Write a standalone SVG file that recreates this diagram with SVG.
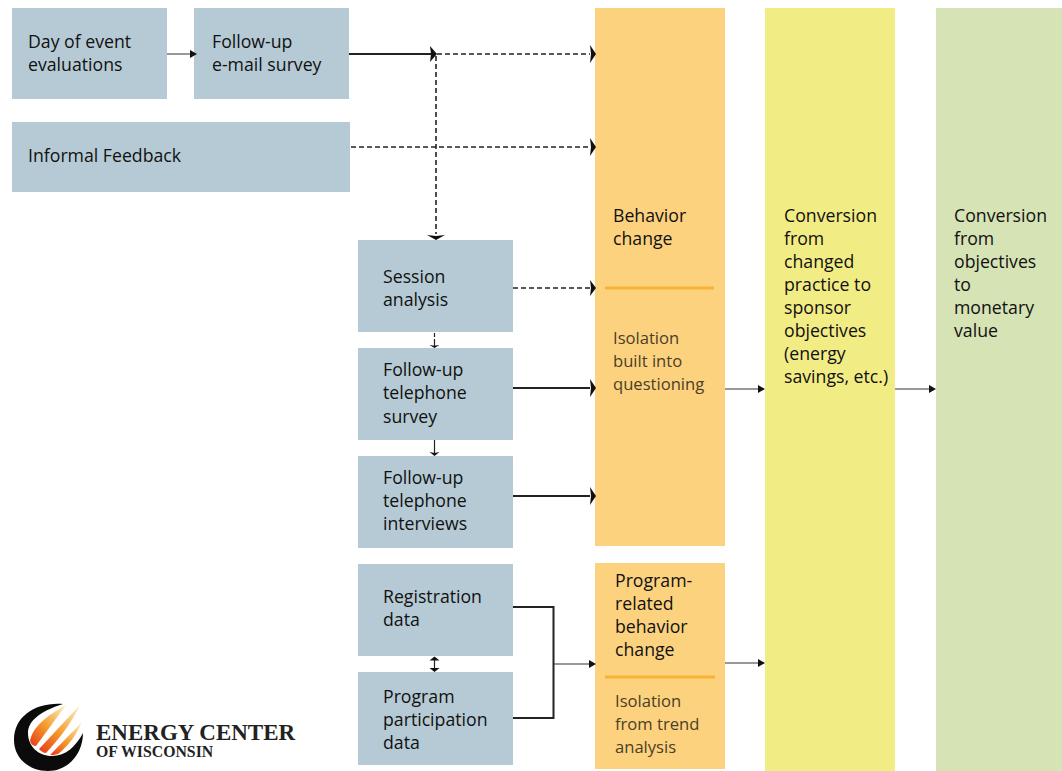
<svg xmlns="http://www.w3.org/2000/svg" width="1062" height="771" viewBox="0 0 1062 771">
<style>
text{font-family:"Open Sans","Noto Sans","Liberation Sans",sans-serif;font-size:17.7px;fill:#111}
.thin{font-size:16.600px;fill:#4a4026}
.b{fill:#b5cad4}.o{fill:#fdd27f}.y{fill:#f2ec85}.g{fill:#d5e3b5}
.c{fill:none;stroke:#222;stroke-width:2}
.t{fill:none;stroke:#333;stroke-width:1}
.a{fill:none;stroke:#222;stroke-width:1.2}
.d{fill:none;stroke:#222;stroke-width:1.6;stroke-dasharray:5 3}
.h{fill:#111}
.r{stroke:#f9b233;stroke-width:3}
text.l1{font-family:"Liberation Serif",serif;font-weight:700;font-size:23px;fill:#222}
text.l2{font-family:"Liberation Serif",serif;font-weight:700;font-size:15.800px;fill:#222}
</style>
<defs>
<linearGradient id="fl" x1="0" y1="1" x2="1" y2="0"><stop offset="0" stop-color="#e8381a"/><stop offset=".45" stop-color="#f59a2a"/><stop offset="1" stop-color="#fbf3c8"/></linearGradient>
</defs>
<rect width="1062" height="771" fill="#fff"/>
<g id="n-day"><rect class="b" x="12" y="8" width="155" height="91"/><text x="28" y="48">Day of event</text><text x="28" y="71">evaluations</text></g>
<g id="n-email"><rect class="b" x="194" y="8" width="155" height="91"/><text x="212" y="48">Follow-up</text><text x="212" y="71">e-mail survey</text></g>
<g id="n-informal"><rect class="b" x="12" y="122" width="338" height="70"/><text x="28" y="162">Informal Feedback</text></g>
<g id="n-session"><rect class="b" x="358" y="240" width="155" height="92"/><text x="383" y="283">Session</text><text x="383" y="306">analysis</text></g>
<g id="n-phone"><rect class="b" x="358" y="348" width="155" height="92"/><text x="383" y="376">Follow-up</text><text x="383" y="399">telephone</text><text x="383" y="423">survey</text></g>
<g id="n-interviews"><rect class="b" x="358" y="456" width="155" height="92"/><text x="383" y="484">Follow-up</text><text x="383" y="507">telephone</text><text x="383" y="530">interviews</text></g>
<g id="n-registration"><rect class="b" x="358" y="564" width="155" height="92"/><text x="383" y="603">Registration</text><text x="383" y="626">data</text></g>
<g id="n-participation"><rect class="b" x="358" y="672" width="155" height="93"/><text x="383" y="703">Program</text><text x="383" y="726">participation</text><text x="383" y="749">data</text></g>
<g id="n-behavior"><rect class="o" x="595" y="8" width="130" height="538"/><text x="613" y="222">Behavior</text><text x="613" y="245">change</text><line class="r" x1="605" y1="288" x2="714" y2="288"/><text class="thin" x="613" y="344">Isolation</text><text class="thin" x="613" y="367">built into</text><text class="thin" x="613" y="390">questioning</text></g>
<g id="n-program"><rect class="o" x="595" y="563" width="130" height="206"/><text x="615" y="587">Program-</text><text x="615" y="610">related</text><text x="615" y="633">behavior</text><text x="615" y="656">change</text><line class="r" x1="605" y1="677" x2="715" y2="677"/><text class="thin" x="615" y="707">Isolation</text><text class="thin" x="615" y="730">from trend</text><text class="thin" x="615" y="753">analysis</text></g>
<g id="n-conv1"><rect class="y" x="765" y="8" width="130" height="763"/><text x="784" y="222">Conversion</text><text x="784" y="245">from</text><text x="784" y="268">changed</text><text x="784" y="291">practice to</text><text x="784" y="314">sponsor</text><text x="784" y="337">objectives</text><text x="784" y="360">(energy</text><text x="784" y="383">savings, etc.)</text></g>
<g id="n-conv2"><rect class="g" x="936" y="8" width="126" height="763"/><text x="954" y="222">Conversion</text><text x="954" y="245">from</text><text x="954" y="268">objectives</text><text x="954" y="291">to</text><text x="954" y="314">monetary</text><text x="954" y="337">value</text></g>
<g id="connectors">
<path class="t" d="M167 54H190"/><path class="h" d="M197 54l-7-4v8z"/>
<path class="c" d="M349 54H431"/><path class="h" d="M437 54l-7-8 1 8-1 8z"/>
<path class="d" d="M437 54H590"/><path class="h" d="M596 54l-6-9 1 9-1 9z"/>
<path class="d" d="M351 147H590"/><path class="h" d="M596 147l-6-9 1 9-1 9z"/>
<path class="d" d="M436 56V234"/><path class="h" d="M436 240l-9-5 9 1 9-1z"/>
<path class="d" d="M513 288H590"/><path class="h" d="M596 288l-6-8 1 8-1 8z"/>
<path class="a" d="M434.500 333V337M434.500 339V346"/><path class="h" d="M434.500 348l-5-3 5 .8 5-.8z"/>
<path class="a" d="M434.500 440V454"/><path class="h" d="M434.500 456l-5-4 5 1 5-1z"/>
<path class="c" d="M513 388H590"/><path class="h" d="M596 388l-6-9 1 9-1 9z"/>
<path class="c" d="M513 496H590"/><path class="h" d="M596 496l-6-9 1 9-1 9z"/>
<path class="t" d="M725 389H758"/><path class="h" d="M765 389l-7-4v8z"/>
<path class="t" d="M895 389H929"/><path class="h" d="M936 389l-7-4v8z"/>
<path class="c" d="M513 607H553.500V718H513"/>
<path class="t" d="M554 664H589"/><path class="h" d="M596 664l-7-4v8z"/>
<path class="t" d="M725 663H758"/><path class="h" d="M765 663l-7-4v8z"/>
<path class="a" d="M434.500 659V670" stroke-width="1.500"/><path class="h" d="M434.500 656.500l-5 4h10zM434.500 672l-5-4h10z"/>
</g>
<g id="logo">
<path fill="#0b0b0b" d="M63 704C36 702 14 716 14 740C14 759 30 771 48 771C68 771 83 754 83 733C76 746 66 756 52 756C38 756 28 746 28 733C28 722 38 712 63 704Z"/>
<path fill="url(#fl)" d="M30 741C32 728 46 716 66 705L36 746C33 746 31 744 30 741Z"/>
<path fill="url(#fl)" d="M39 749L80 705C72 722 60 738 46 753C43 753 41 751 39 749Z"/>
<path fill="url(#fl)" d="M50 755L82 722C76 736 68 746 58 754C55 755 52 755 50 755Z"/>
<text class="l1" x="96" y="740">ENERGY CENTER</text>
<text class="l2" x="96" y="757">OF WISCONSIN</text>
</g>
</svg>
